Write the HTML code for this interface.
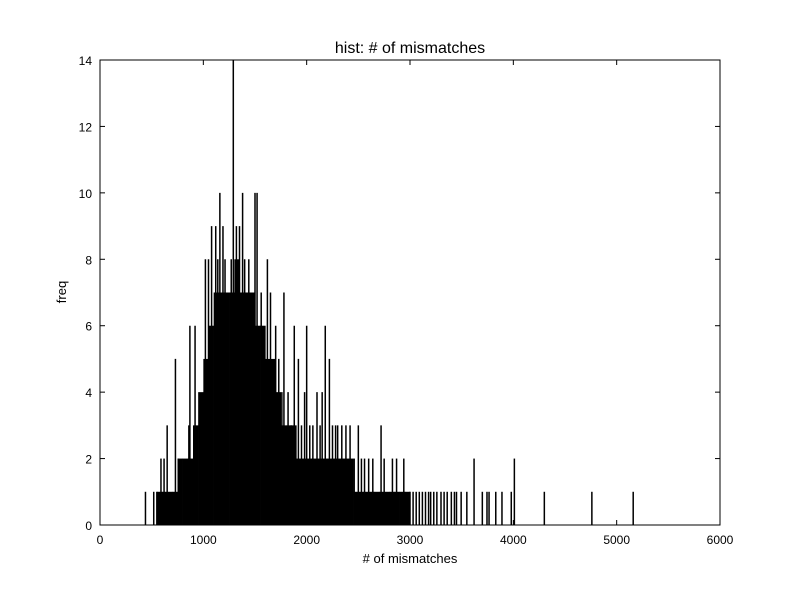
<!DOCTYPE html>
<html><head><meta charset="utf-8"><style>
body{margin:0;background:#fff;}
svg{display:block;font-family:"Liberation Sans",sans-serif;}
</style></head><body>
<svg id="chart" width="800" height="600">
<rect width="800" height="600" fill="#fff"/>
<text x="410" y="53" font-size="16" text-anchor="middle">hist: # of mismatches</text>
<text x="410" y="563" font-size="13" text-anchor="middle"># of mismatches</text>
<text x="66" y="292" font-size="13" text-anchor="middle" transform="rotate(-90 66 292)">freq</text>
<g id="bars"></g>
<g id="axes"></g>
</svg>
<script>
const fillX=[550,600,650,700,750,800,850,900,950,1000,1050,1100,1150,1200,1250,1300,1350,1400,1450,1500,1550,1600,1650,1700,1750,1800,1850,1900,1950,2000,2050,2100,2150,2200,2250,2300,2350,2400,2450,2500,2550,2600,2650,2700,2750,2800,2850,2900,2950];
const fillH=[1,1,1,1,2,2,2,3,4,5,6,7,7,7,7,8,7,7,7,6,6,5,5,4,3,3,3,2,2,2,2,2,2,2,2,2,2,2,1,1,1,1,1,1,1,1,1,1,1];
const spikeX=[440,520,550,590,620,650,730,760,860,870,920,1020,1050,1080,1120,1140,1160,1190,1210,1270,1290,1320,1350,1380,1400,1440,1500,1520,1560,1620,1650,1700,1730,1760,1780,1820,1850,1880,1920,1950,1980,2000,2030,2060,2100,2130,2150,2180,2220,2250,2280,2300,2340,2380,2420,2460,2500,2530,2560,2600,2640,2720,2750,2830,2870,2940,3000,3030,3060,3090,3120,3150,3180,3200,3230,3260,3300,3330,3360,3400,3430,3450,3495,3550,3620,3700,3745,3765,3830,3890,3980,4010,4300,4760,5160];
const spikeH=[1,1,1,2,2,3,5,2,3,6,6,8,8,9,9,8,10,9,8,8,14,9,9,10,8,8,10,10,7,8,7,6,5,4,7,4,3,6,5,3,4,6,3,3,4,3,4,6,5,3,3,3,3,3,3,2,3,2,2,2,2,3,2,2,2,2,1,1,1,1,1,1,1,1,1,1,1,1,1,1,1,1,1,1,2,1,1,1,1,1,1,2,1,1,1];
const xTicks=[0,1000,2000,3000,4000,5000,6000];
const yTicks=[0,2,4,6,8,10,12,14];
const X0=100,X1=720,Y0=525,Y1=60;
const sx=v=>X0+(v/6000)*(X1-X0), sy=v=>Y0-(v/14)*(Y0-Y1);
const NS="http://www.w3.org/2000/svg";
const bars=document.getElementById('bars'), axes=document.getElementById('axes');
fillX.forEach((x,i)=>{const r=document.createElementNS(NS,'rect');
r.setAttribute('x',sx(x));r.setAttribute('width',sx(50)-sx(0)+0.3);
r.setAttribute('y',sy(fillH[i]));r.setAttribute('height',Y0-sy(fillH[i]));r.setAttribute('fill','#000');


bars.appendChild(r);});
spikeX.forEach((x,i)=>{const l=document.createElementNS(NS,'line');
l.setAttribute('x1',sx(x));l.setAttribute('x2',sx(x));l.setAttribute('y1',Y0);l.setAttribute('y2',sy(spikeH[i]));
l.setAttribute('stroke','#000');l.setAttribute('stroke-width','1.5');


bars.appendChild(l);});
const fr=document.createElementNS(NS,'rect');
fr.setAttribute('x',X0);fr.setAttribute('y',Y1);fr.setAttribute('width',X1-X0);fr.setAttribute('height',Y0-Y1);
fr.setAttribute('fill','none');fr.setAttribute('stroke','#000');


axes.appendChild(fr);
xTicks.forEach(t=>{const x=sx(t);
['M'+x+' '+Y0+'v-5','M'+x+' '+Y1+'v5'].forEach(d=>{const p=document.createElementNS(NS,'path');p.setAttribute('d',d);p.setAttribute('stroke','#000');


axes.appendChild(p);});
const tx=document.createElementNS(NS,'text');tx.setAttribute('x',x);tx.setAttribute('y',Y0+19);tx.setAttribute('font-size','12');tx.setAttribute('text-anchor','middle');tx.textContent=t;


axes.appendChild(tx);});
yTicks.forEach(t=>{const y=sy(t);
['M'+X0+' '+y+'h5','M'+X1+' '+y+'h-5'].forEach(d=>{const p=document.createElementNS(NS,'path');p.setAttribute('d',d);p.setAttribute('stroke','#000');


axes.appendChild(p);});
const tx=document.createElementNS(NS,'text');tx.setAttribute('x',X0-8);tx.setAttribute('y',y+5);tx.setAttribute('font-size','12');tx.setAttribute('text-anchor','end');tx.textContent=t;


axes.appendChild(tx);});
</script>
</body></html>
